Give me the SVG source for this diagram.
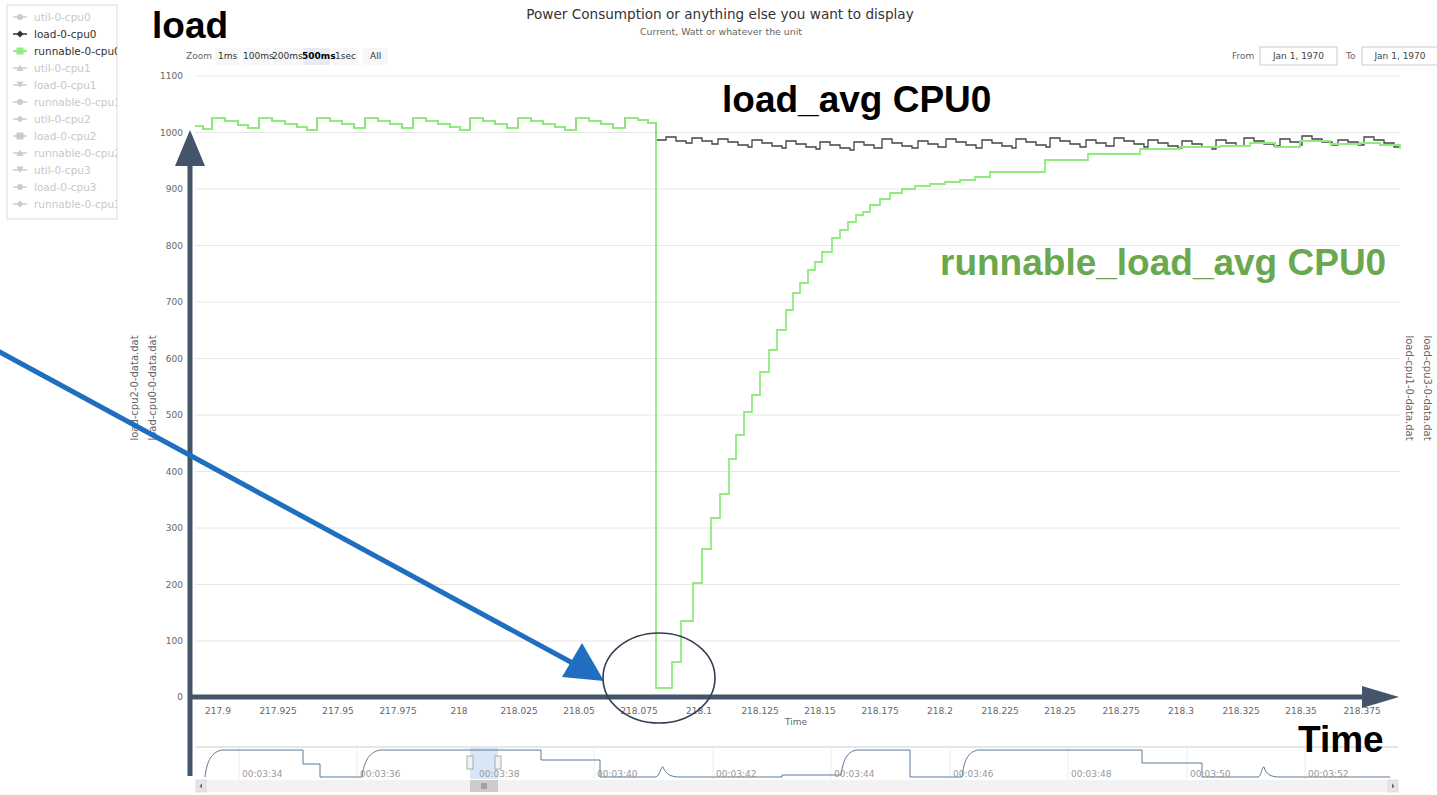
<svg xmlns="http://www.w3.org/2000/svg" width="1437" height="795" viewBox="0 0 1437 795">
<defs>
<style>
.t{font-family:"DejaVu Sans",sans-serif;fill:#666;font-size:9px}
.yl{text-anchor:end}
.xl{text-anchor:middle}
.grid{stroke:#e6e6e6;stroke-width:1}
.leg{font-family:"DejaVu Sans",sans-serif;font-size:10.5px;fill:#c8c8c8}
.big{font-family:"Liberation Sans",Arial,sans-serif;font-weight:bold;font-size:37px}
.btn{fill:#f7f7f7}
.axis{stroke:#44546a;stroke-width:5;fill:none}
</style>
<clipPath id="legclip"><rect x="7" y="5" width="110" height="214"/></clipPath>
</defs>
<rect width="1437" height="795" fill="#fff"/>

<g id="title">
<text x="720" y="19" text-anchor="middle" style="font-family:'DejaVu Sans',sans-serif;font-size:13.6px;fill:#333">Power Consumption or anything else you want to display</text>
<text x="721" y="35" text-anchor="middle" style="font-family:'DejaVu Sans',sans-serif;font-size:9.4px;fill:#666">Current, Watt or whatever the unit</text>
</g>

<g id="legend">
<rect x="7" y="5" width="110" height="214" fill="#fff" stroke="#ddd" stroke-width="1"/>
<g clip-path="url(#legclip)">
<g stroke="#ccc" stroke-width="1.5">
<line x1="13" y1="17" x2="27" y2="17"/><line x1="13" y1="34" x2="27" y2="34" stroke="#333"/><line x1="13" y1="51" x2="27" y2="51" stroke="#90ed7d" stroke-width="2"/>
<line x1="13" y1="68" x2="27" y2="68"/><line x1="13" y1="85" x2="27" y2="85"/><line x1="13" y1="102" x2="27" y2="102"/>
<line x1="13" y1="119" x2="27" y2="119"/><line x1="13" y1="136" x2="27" y2="136"/><line x1="13" y1="153" x2="27" y2="153"/>
<line x1="13" y1="170" x2="27" y2="170"/><line x1="13" y1="187" x2="27" y2="187"/><line x1="13" y1="204" x2="27" y2="204"/>
</g>
<g fill="#ccc">
<circle cx="20" cy="17" r="3"/>
<path d="M20 30.5 L23.5 34 L20 37.5 L16.5 34 Z" fill="#333"/>
<rect x="16.5" y="47.5" width="7" height="7" fill="#90ed7d"/>
<path d="M20 64.5 L23.5 71 L16.5 71 Z"/>
<path d="M16.5 81.5 L23.5 81.5 L20 88 Z"/>
<circle cx="20" cy="102" r="3"/>
<path d="M20 115.5 L23.5 119 L20 122.5 L16.5 119 Z"/>
<rect x="16.5" y="132.5" width="7" height="7"/>
<path d="M20 149.5 L23.5 156 L16.5 156 Z"/>
<path d="M16.5 166.5 L23.5 166.5 L20 173 Z"/>
<circle cx="20" cy="187" r="3"/>
<path d="M20 200.5 L23.5 204 L20 207.5 L16.5 204 Z"/>
</g>
<text class="leg" x="34" y="21">util-0-cpu0</text>
<text class="leg" x="34" y="38" style="fill:#333">load-0-cpu0</text>
<text class="leg" x="34" y="55" style="fill:#333">runnable-0-cpu0</text>
<text class="leg" x="34" y="72">util-0-cpu1</text>
<text class="leg" x="34" y="89">load-0-cpu1</text>
<text class="leg" x="34" y="106">runnable-0-cpu1</text>
<text class="leg" x="34" y="123">util-0-cpu2</text>
<text class="leg" x="34" y="140">load-0-cpu2</text>
<text class="leg" x="34" y="157">runnable-0-cpu2</text>
<text class="leg" x="34" y="174">util-0-cpu3</text>
<text class="leg" x="34" y="191">load-0-cpu3</text>
<text class="leg" x="34" y="208">runnable-0-cpu3</text>
</g>
</g>

<g id="zoom-buttons">
<text class="t" x="186" y="59">Zoom</text>
<rect class="btn" x="215" y="48" width="24" height="17"/>
<rect class="btn" x="243" y="48" width="27" height="17"/>
<rect class="btn" x="273" y="48" width="29" height="17"/>
<rect x="303" y="48" width="27" height="17" fill="#e6ebf5"/>
<rect class="btn" x="333" y="48" width="25" height="17"/>
<rect class="btn" x="363" y="48" width="25" height="17"/>
<text class="t" x="218" y="59" style="fill:#333">1ms</text>
<text class="t" x="243" y="59" style="fill:#333">100ms</text>
<text class="t" x="272" y="59" style="fill:#333">200ms</text>
<text class="t" x="302" y="59" style="fill:#000;font-weight:bold">500ms</text>
<text class="t" x="335" y="59" style="fill:#333">1sec</text>
<text class="t" x="370" y="59" style="fill:#333">All</text>
</g>

<g id="date-range">
<text class="t" x="1232" y="59">From</text>
<rect x="1260" y="47" width="77" height="18" fill="#fff" stroke="#ccc"/>
<text class="t" x="1298.5" y="59" text-anchor="middle" style="fill:#444">Jan 1, 1970</text>
<text class="t" x="1346" y="59">To</text>
<rect x="1362" y="47" width="76" height="18" fill="#fff" stroke="#ccc"/>
<text class="t" x="1400" y="59" text-anchor="middle" style="fill:#444">Jan 1, 1970</text>
</g>

<g id="grid">
<line class="grid" x1="195" y1="76" x2="1400" y2="76"/>
<line class="grid" x1="195" y1="132.5" x2="1400" y2="132.5"/>
<line class="grid" x1="195" y1="189" x2="1400" y2="189"/>
<line class="grid" x1="195" y1="245.5" x2="1400" y2="245.5"/>
<line class="grid" x1="195" y1="302" x2="1400" y2="302"/>
<line class="grid" x1="195" y1="358.5" x2="1400" y2="358.5"/>
<line class="grid" x1="195" y1="415" x2="1400" y2="415"/>
<line class="grid" x1="195" y1="471.5" x2="1400" y2="471.5"/>
<line class="grid" x1="195" y1="528" x2="1400" y2="528"/>
<line class="grid" x1="195" y1="584.5" x2="1400" y2="584.5"/>
<line class="grid" x1="195" y1="641" x2="1400" y2="641"/>
</g>

<g id="y-labels" class="t yl">
<text x="183" y="79">1100</text>
<text x="183" y="135.5">1000</text>
<text x="183" y="192">900</text>
<text x="183" y="248.5">800</text>
<text x="183" y="305">700</text>
<text x="183" y="361.5">600</text>
<text x="183" y="418">500</text>
<text x="183" y="474.5">400</text>
<text x="183" y="531">300</text>
<text x="183" y="587.5">200</text>
<text x="183" y="644">100</text>
<text x="183" y="700">0</text>
</g>

<g id="x-labels" class="t xl">
<text x="218" y="714">217.9</text>
<text x="278" y="714">217.925</text>
<text x="338" y="714">217.95</text>
<text x="398" y="714">217.975</text>
<text x="459" y="714">218</text>
<text x="519" y="714">218.025</text>
<text x="579" y="714">218.05</text>
<text x="639" y="714">218.075</text>
<text x="699" y="714">218.1</text>
<text x="760" y="714">218.125</text>
<text x="820" y="714">218.15</text>
<text x="880" y="714">218.175</text>
<text x="940" y="714">218.2</text>
<text x="1000" y="714">218.225</text>
<text x="1060" y="714">218.25</text>
<text x="1121" y="714">218.275</text>
<text x="1181" y="714">218.3</text>
<text x="1241" y="714">218.325</text>
<text x="1301" y="714">218.35</text>
<text x="1362" y="714">218.375</text>
<text x="796" y="725">Time</text>
</g>

<g id="side-labels" class="t">
<text transform="translate(138,388) rotate(-90)" text-anchor="middle" style="font-size:10px">load-cpu2-0-data.dat</text>
<text transform="translate(156,388) rotate(-90)" text-anchor="middle" style="font-size:10px">load-cpu0-0-data.dat</text>
<text transform="translate(1406,388) rotate(90)" text-anchor="middle" style="font-size:10px">load-cpu1-0-data.dat</text>
<text transform="translate(1424,388) rotate(90)" text-anchor="middle" style="font-size:10px">load-cpu3-0-data.dat</text>
</g>

<g id="series">
<path id="load-0-cpu0" fill="none" stroke="#434348" stroke-width="1.3" d="M195 126 H203 V129 H212 V118 H225 V121 H238 V125 H248 V128 H259 V118 H272 V121 H285 V124 H297 V127 H307 V130 H317 V118 H330 V121 H342 V124 H354 V128 H365 V118 H378 V121 H390 V124 H402 V128 H413 V118 H426 V121 H438 V124 H450 V127 H460 V130 H470 V118 H483 V121 H495 V124 H507 V128 H518 V118 H531 V121 H543 V124 H555 V127 H565 V130 H576 V118 H589 V121 H601 V124 H613 V128 H625 V118 H638 V120 H648 V123 H656 V140 H666 V137 H676 V141 H686 V143 H692 V138 H702 V141 H712 V144 H718 V139 H728 V142 H738 V145 H748 V147 H752 V140 H762 V143 H772 V146 H782 V148 H786 V141 H796 V144 H806 V147 H816 V149 H820 V142 H830 V145 H840 V148 H850 V150 H854 V142 H864 V145 H874 V148 H882 V139 H892 V143 H902 V146 H912 V148 H918 V141 H928 V144 H938 V147 H946 V139 H956 V142 H966 V145 H976 V148 H982 V140 H992 V143 H1002 V146 H1012 V148 H1016 V139 H1026 V142 H1036 V145 H1046 V147 H1050 V138 H1060 V141 H1070 V144 H1080 V147 H1086 V140 H1096 V143 H1106 V146 H1114 V138 H1124 V141 H1134 V144 H1144 V147 H1148 V140 H1158 V143 H1168 V146 H1178 V148 H1182 V141 H1192 V144 H1202 V147 H1212 V149 H1216 V140 H1226 V143 H1236 V146 H1244 V138 H1254 V141 H1264 V144 H1274 V146 H1280 V139 H1290 V142 H1300 V145 H1302 V136 H1312 V139 H1322 V142 H1332 V145 H1338 V140 H1348 V142 H1358 V145 H1364 V137 H1374 V140 H1384 V143 H1394 V147 H1400"/>
<path id="runnable-0-cpu0" fill="none" stroke="#90ed7d" stroke-width="1.8" d="M195 126 H203 V129 H212 V118 H225 V121 H238 V125 H248 V128 H259 V118 H272 V121 H285 V124 H297 V127 H307 V130 H317 V118 H330 V121 H342 V124 H354 V128 H365 V118 H378 V121 H390 V124 H402 V128 H413 V118 H426 V121 H438 V124 H450 V127 H460 V130 H470 V118 H483 V121 H495 V124 H507 V128 H518 V118 H531 V121 H543 V124 H555 V127 H565 V130 H576 V118 H589 V121 H601 V124 H613 V128 H625 V118 H638 V120 H648 V123 H656 V688 H672 V662 H681 V621 H693 V583 H702 V549 H711 V518 H720 V494 H729 V459 H736 V435 H744 V412 H752 V395 H760 V372 H769 V350 H777 V330 H786 V310 H793 V293 H800 V283 H808 V270 H815 V262 H822 V252 H832 V238 H840 V230 H848 V222 H856 V215 H863 V212 H870 V205 H880 V199 H890 V193 H902 V189 H915 V186 H930 V184 H945 V182 H960 V180 H975 V177 H990 V172 H1045 V160 H1088 V154 H1140 V149 H1180 V147 H1220 V146 H1250 V143 H1275 V147 H1300 V141 H1330 V144 H1360 V143 H1380 V145 H1400 V149"/>
</g>

<g id="navigator">
<line x1="196" y1="747" x2="1398" y2="747" stroke="#ccc"/>
<g stroke="#eee">
<line x1="239" y1="748" x2="239" y2="779"/><line x1="357" y1="748" x2="357" y2="779"/><line x1="476" y1="748" x2="476" y2="779"/><line x1="594" y1="748" x2="594" y2="779"/><line x1="713" y1="748" x2="713" y2="779"/><line x1="831" y1="748" x2="831" y2="779"/><line x1="950" y1="748" x2="950" y2="779"/><line x1="1068" y1="748" x2="1068" y2="779"/><line x1="1187" y1="748" x2="1187" y2="779"/><line x1="1305" y1="748" x2="1305" y2="779"/>
</g>
<rect x="470" y="748" width="28" height="31" fill="#cfe0f7" fill-opacity="0.8"/>
<path fill="none" stroke="#5b7a99" stroke-width="1" d="M205 777 C207 760 212 752 222 750 H303 V764 H320 V777 H362 C364 760 370 752 380 750 H541 V760 H600 V777 H655 C660 777 661 765 663 767 C666 774 670 777 680 777 H782 V775 H841 C843 760 847 752 856 750 H910 V777 H962 C964 760 968 752 978 750 H1142 V763 H1202 V777 H1258 C1261 777 1262 766 1264 767 C1266 774 1270 777 1280 777 H1390"/>
<g class="t" style="fill:#999">
<text x="242" y="777">00:03:34</text><text x="360" y="777">00:03:36</text><text x="479" y="777">00:03:38</text><text x="597" y="777">00:03:40</text><text x="716" y="777">00:03:42</text><text x="834" y="777">00:03:44</text><text x="953" y="777">00:03:46</text><text x="1071" y="777">00:03:48</text><text x="1190" y="777">00:03:50</text><text x="1308" y="777">00:03:52</text>
</g>
<rect x="467" y="756" width="6" height="13" fill="#f2f2f2" stroke="#999" stroke-width="0.8"/>
<rect x="495" y="756" width="6" height="13" fill="#f2f2f2" stroke="#999" stroke-width="0.8"/>
<rect x="196" y="780" width="1202" height="12" fill="#f2f2f2"/>
<rect x="196" y="780" width="10" height="12" fill="#e6e6e6" stroke="#ccc" stroke-width="0.6"/>
<path d="M202 783.5 L199.5 786 L202 788.5 Z" fill="#666"/>
<rect x="1388" y="780" width="10" height="12" fill="#e6e6e6" stroke="#ccc" stroke-width="0.6"/>
<path d="M1392 783.5 L1394.5 786 L1392 788.5 Z" fill="#666"/>
<rect x="470" y="780" width="28" height="12" fill="#ccc"/>
<g stroke="#666" stroke-width="0.8"><line x1="482" y1="783" x2="482" y2="789"/><line x1="484" y1="783" x2="484" y2="789"/><line x1="486" y1="783" x2="486" y2="789"/></g>
</g>

<g id="connectors">
<path class="axis" d="M190 776 V162"/>
<path d="M190 130 L205 166 L175 166 Z" fill="#44546a"/>
<path class="axis" d="M188 697 H1365"/>
<path d="M1399 697 L1362 686 L1362 708 Z" fill="#44546a"/>
<line x1="-2" y1="351" x2="578" y2="666" stroke="#1f6ec0" stroke-width="5"/>
<path d="M604 681 L562 677 L582 643 Z" fill="#1f6ec0"/>
<ellipse cx="659" cy="678" rx="56" ry="45" fill="none" stroke="#333f55" stroke-width="1.6"/>
</g>

<g id="annotations">
<text class="big" x="152" y="38" style="fill:#000">load</text>
<text class="big" x="722" y="112" style="fill:#000">load_avg CPU0</text>
<text class="big" x="940" y="275" style="fill:#6aa84f">runnable_load_avg CPU0</text>
<text class="big" x="1298" y="752" style="fill:#000">Time</text>
</g>
</svg>
